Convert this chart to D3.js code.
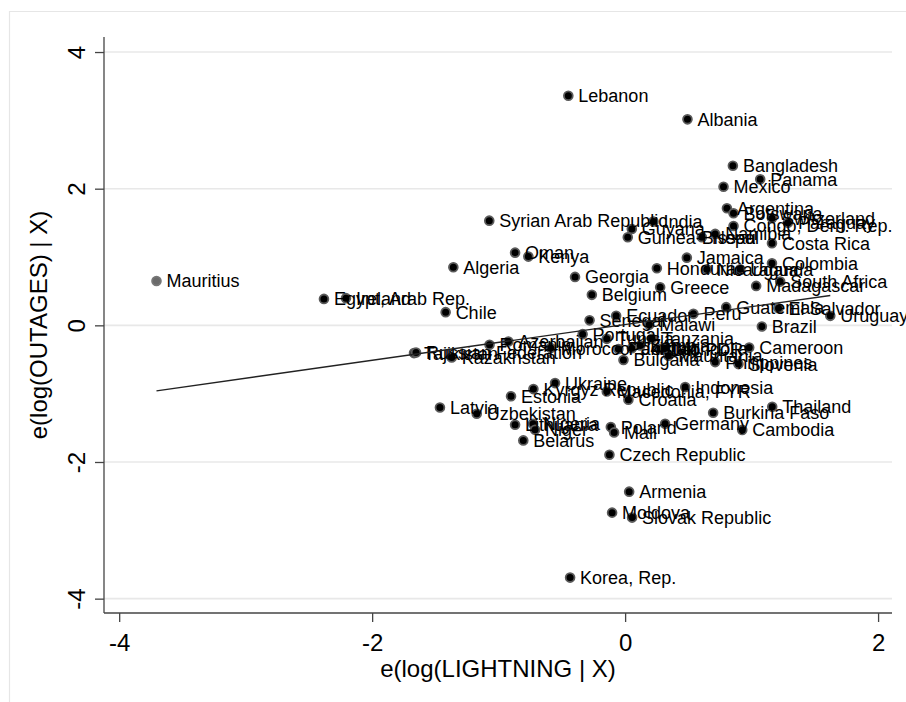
<!DOCTYPE html>
<html>
<head>
<meta charset="utf-8">
<script src="https://cdn.jsdelivr.net/npm/d3@7"></script>
<style>
  html, body { margin: 0; padding: 0; background: #ffffff; }
  svg { display: block; }
  text { font-family: "Liberation Sans", Arial, Helvetica, sans-serif; }
</style>
</head>
<body>
<svg id="chart" width="906" height="702"></svg>
<script>
// ---- data ----
const countries = [
  "Mauritius","Egypt, Arab Rep.","Ireland","Chile","Algeria","Syrian Arab Republic","Oman","Kenya",
  "Georgia","Belgium","Lebanon","Albania","Bangladesh","Panama","Mexico","Argentina","Botswana",
  "Switzerland","Paraguay","Congo, Dem. Rep.","India","Guyana","Guinea-Bissau","Nepal","Namibia",
  "Costa Rica","Jamaica","Colombia","Honduras","Nicaragua","Uganda","South Africa","Madagascar",
  "Greece","Guatemala","El Salvador","Uruguay","Brazil","Peru","Ecuador","Senegal","Malawi",
  "Portugal","Azerbaijan","Romania","Tajikistan","Russian Federation","Kazakhstan","Morocco",
  "Tunisia","Pakistan","Jordan","Zambia","Tanzania","Lao PDR","Mongolia","Mauritania","Bulgaria",
  "Philippines","Slovenia","Cameroon","Ukraine","Kyrgyz Republic","Macedonia, FYR","Estonia",
  "Indonesia","Croatia","Latvia","Uzbekistan","Lithuania","Nigeria","Niger","Belarus","Poland",
  "Mali","Germany","Czech Republic","Thailand","Burkina Faso","Cambodia","Armenia","Moldova",
  "Slovak Republic","Korea, Rep."
];
const lightning = [
  -3.705,-2.381,-2.207,-1.419,-1.358,-1.074,-0.870,-0.765,
  -0.396,-0.263,-0.449,0.493,0.852,1.068,0.778,0.805,0.857,
  1.161,1.287,0.857,0.224,0.053,0.021,0.607,0.712,
  1.161,0.488,1.161,0.251,0.646,0.910,1.226,1.036,
  0.277,0.799,1.213,1.622,1.081,0.540,-0.071,-0.281,0.190,
  -0.336,-0.923,-1.072,-1.669,-1.653,-1.371,-0.588,
  -0.145,-0.053,0.053,0.120,0.212,0.277,0.316,0.342,-0.013,
  0.712,0.896,0.981,-0.554,-0.725,-0.145,-0.902,
  0.475,0.026,-1.464,-1.173,-0.870,-0.728,-0.712,-0.805,-0.113,
  -0.087,0.316,-0.124,1.163,0.696,0.926,0.032,-0.103,
  0.055,-0.435
];
const outages = [
  0.650,0.387,0.398,0.193,0.851,1.532,1.064,1.006,
  0.709,0.446,3.360,3.015,2.336,2.137,2.029,1.713,1.640,
  1.567,1.503,1.455,1.518,1.411,1.289,1.289,1.338,
  1.202,0.991,0.909,0.836,0.822,0.822,0.640,0.577,
  0.558,0.266,0.251,0.139,-0.018,0.168,0.139,0.073,0.007,
  -0.129,-0.237,-0.285,-0.406,-0.398,-0.471,-0.333,
  -0.198,-0.346,-0.336,-0.295,-0.198,-0.348,-0.336,-0.444,-0.507,
  -0.538,-0.567,-0.326,-0.845,-0.933,-0.968,-1.038,
  -0.904,-1.089,-1.202,-1.294,-1.455,-1.440,-1.528,-1.684,-1.488,
  -1.567,-1.440,-1.893,-1.192,-1.279,-1.530,-2.434,-2.741,
  -2.814,-3.692
];
const highlighted = ["Mauritius"];
const xTicks = [-4, -2, 0, 2];
const yTicks = [-4, -2, 0, 2, 4];
const xDomain = [-4.12, 2.11];
const yDomain = [-4.21, 4.22];
const fitSlope = 0.262;
const fitIntercept = 0.012;
const xTitle = "e(log(LIGHTNING | X)";
const yTitle = "e(log(OUTAGES) | X)";

// ---- layout ----
const svg = d3.select("#chart");
const plot = { left: 104, right: 892, top: 37, bottom: 613 };

const x = d3.scaleLinear().domain(xDomain).range([plot.left, plot.right]);
const y = d3.scaleLinear().domain(yDomain).range([plot.bottom, plot.top]);
const fmt = d => String(d); // plain hyphen-minus as in the reference

// outer graph-region border (cropped at right/bottom)
svg.append("path")
  .attr("d", "M9.5,720 L9.5,11.5 L920,11.5")
  .attr("fill", "none")
  .attr("stroke", "#e6e6e6")
  .attr("stroke-width", 1.2);

// gridlines
svg.append("g").selectAll("line").data(yTicks).join("line")
  .attr("x1", plot.left).attr("x2", plot.right)
  .attr("y1", d => y(d)).attr("y2", d => y(d))
  .attr("stroke", "#e8e8e8").attr("stroke-width", 1.6);

// y axis
const yAxis = d3.axisLeft(y).tickValues(yTicks).tickSize(9).tickPadding(10).tickFormat(fmt);
const gy = svg.append("g").attr("transform", `translate(${plot.left},0)`).call(yAxis);
gy.select(".domain").attr("stroke", "#444").attr("stroke-width", 1.3)
  .attr("d", `M0,${plot.top}V${plot.bottom}`);
gy.selectAll(".tick line").attr("stroke", "#444").attr("stroke-width", 1.3);
gy.selectAll(".tick text")
  .attr("font-size", 24).attr("fill", "#000")
  .attr("font-family", '"Liberation Sans", Arial, sans-serif')
  .attr("text-anchor", "middle")
  .attr("dy", 0)
  .attr("x", 0).attr("y", 0)
  .attr("transform", "translate(-19,0) rotate(-90)");

// x axis
const xAxis = d3.axisBottom(x).tickValues(xTicks).tickSize(9).tickPadding(4).tickFormat(fmt);
const gx = svg.append("g").attr("transform", `translate(0,${plot.bottom})`).call(xAxis);
gx.select(".domain").attr("stroke", "#444").attr("stroke-width", 1.3)
  .attr("d", `M${plot.left},0H${plot.right}`);
gx.selectAll(".tick line").attr("stroke", "#444").attr("stroke-width", 1.3);
gx.selectAll(".tick text")
  .attr("font-size", 24).attr("fill", "#000")
  .attr("font-family", '"Liberation Sans", Arial, sans-serif')
  .attr("dy", 0).attr("y", 38);

// axis titles
svg.append("text")
  .attr("x", (plot.left + plot.right) / 2).attr("y", 677)
  .attr("text-anchor", "middle").attr("font-size", 24).attr("fill", "#000")
  .text(xTitle);
svg.append("text")
  .attr("transform", `translate(47,${(plot.top + plot.bottom) / 2}) rotate(-90)`)
  .attr("text-anchor", "middle").attr("font-size", 24).attr("fill", "#000")
  .text(yTitle);

// points
const pts = countries.map((c, i) => ({ name: c, x: lightning[i], y: outages[i], hl: highlighted.includes(c) }));

svg.append("g").selectAll("circle").data(pts).join("circle")
  .attr("cx", d => x(d.x)).attr("cy", d => y(d.y))
  .attr("r", 4.4)
  .attr("fill", d => d.hl ? "#6a6a6a" : "#000")
  .attr("stroke", d => d.hl ? "#777" : "#5a5a5a")
  .attr("stroke-width", 1.8);

svg.append("g").selectAll("text").data(pts).join("text")
  .attr("x", d => x(d.x) + 10).attr("y", d => y(d.y) + 6.5)
  .attr("font-size", 18).attr("fill", "#000")
  .text(d => d.name);

// fitted line through the range of the data
const xExt = d3.extent(lightning);
const line = d3.line().x(d => x(d)).y(d => y(fitIntercept + fitSlope * d));
svg.append("path")
  .attr("d", line(xExt))
  .attr("fill", "none").attr("stroke", "#222").attr("stroke-width", 1.4);
</script>
</body>
</html>
